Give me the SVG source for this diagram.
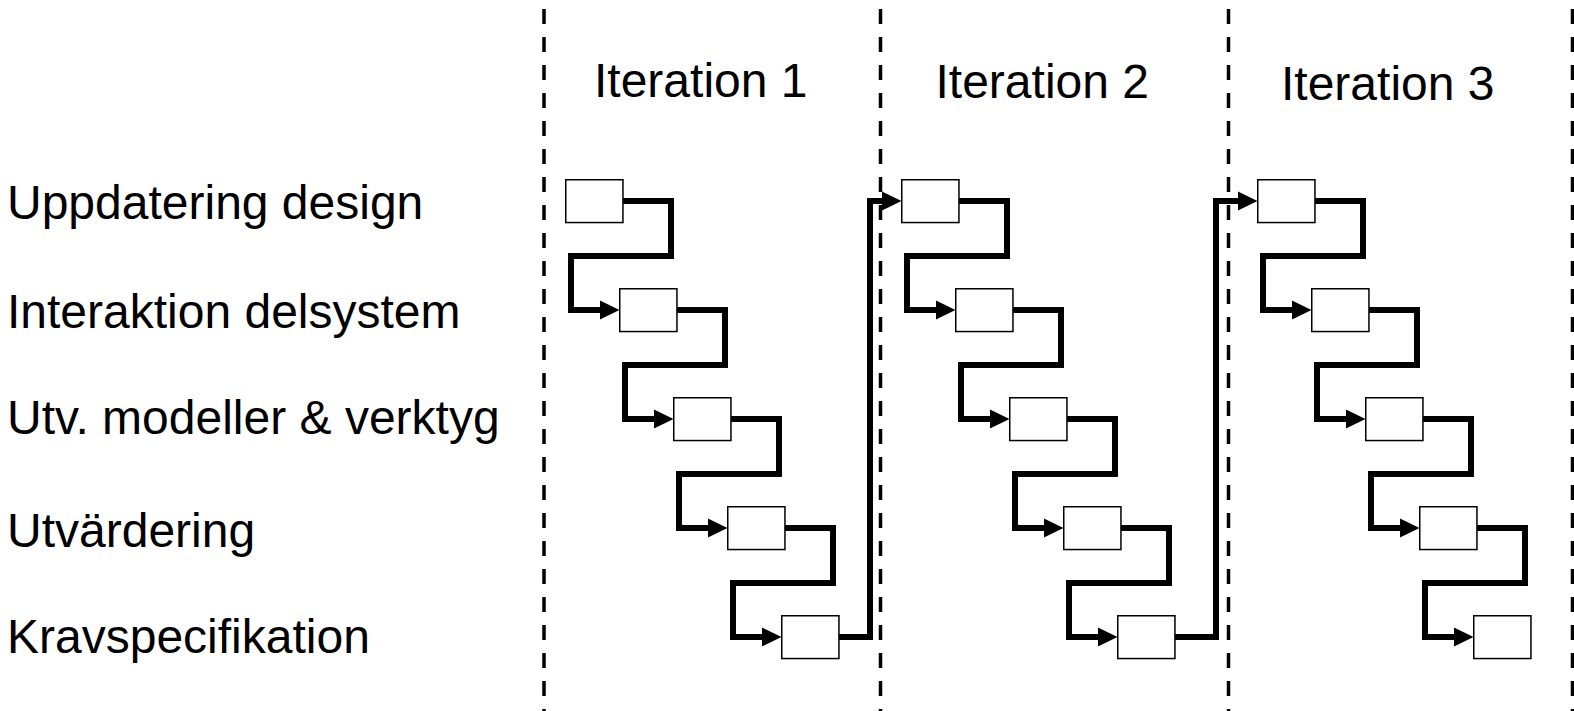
<svg xmlns="http://www.w3.org/2000/svg" width="1574" height="711" viewBox="0 0 1574 711">
  <style>
    .lbl { font-family: "Liberation Sans", Arial, sans-serif; font-size: 48px; fill: #000; }
    .sep { stroke: #000; stroke-width: 3.5; stroke-dasharray: 15 13; fill: none; }
    .box { fill: #fff; stroke: #000; stroke-width: 1.5; }
    .flow { fill: none; stroke: #000; stroke-width: 6; stroke-linejoin: miter; stroke-linecap: butt; marker-end: url(#arrow); }
  </style>
  <defs>
    <marker id="arrow" markerUnits="userSpaceOnUse" markerWidth="20" markerHeight="20" refX="9" refY="10" orient="auto">
      <path d="M0,0.5 L19.5,10 L0,19.5 Z" fill="#000"/>
    </marker>
  </defs>

  <rect width="1574" height="711" fill="#fff"/>

  <!-- activity labels -->
  <g id="activities">
    <text class="lbl" x="7" y="219">Uppdatering design</text>
    <text class="lbl" x="7" y="328">Interaktion delsystem</text>
    <text class="lbl" x="7" y="434">Utv. modeller &amp; verktyg</text>
    <text class="lbl" x="7" y="547">Utvärdering</text>
    <text class="lbl" x="7" y="653">Kravspecifikation</text>
  </g>

  <!-- iteration separators -->
  <g id="separators">
    <line class="sep" x1="544" y1="9" x2="544" y2="711"/>
    <line class="sep" x1="880.5" y1="9" x2="880.5" y2="711"/>
    <line class="sep" x1="1228.5" y1="9" x2="1228.5" y2="711"/>
    <line class="sep" x1="1572.5" y1="9" x2="1572.5" y2="711"/>
  </g>

  <!-- iteration headings -->
  <g id="headings">
    <text class="lbl" x="594" y="97">Iteration 1</text>
    <text class="lbl" x="935.5" y="98">Iteration 2</text>
    <text class="lbl" x="1281" y="99.5">Iteration 3</text>
  </g>

  <!-- connectors -->
  <g id="connectors">
    <!-- iteration 1 -->
    <path class="flow" d="M623,201 H671 V256 H571 V310 H609"/>
    <path class="flow" d="M677,310 H725 V365 H625 V419 H663"/>
    <path class="flow" d="M731,419 H779 V474 H679 V528 H717"/>
    <path class="flow" d="M785,528 H833 V583 H733 V637 H771"/>
    <path class="flow" d="M839,637 H870 V201 H891"/>
    <!-- iteration 2 -->
    <path class="flow" d="M959,201 H1007 V256 H907 V310 H945"/>
    <path class="flow" d="M1013,310 H1061 V365 H961 V419 H999"/>
    <path class="flow" d="M1067,419 H1115 V474 H1015 V528 H1053"/>
    <path class="flow" d="M1121,528 H1169 V583 H1069 V637 H1107"/>
    <path class="flow" d="M1175,637 H1216 V201 H1247"/>
    <!-- iteration 3 -->
    <path class="flow" d="M1315,201 H1363 V256 H1263 V310 H1301"/>
    <path class="flow" d="M1369,310 H1417 V365 H1317 V419 H1355"/>
    <path class="flow" d="M1423,419 H1471 V474 H1371 V528 H1409"/>
    <path class="flow" d="M1477,528 H1525 V583 H1425 V637 H1463"/>
  </g>

  <!-- iteration 1 tasks -->
  <g id="it1-design"><rect class="box" x="565.75" y="179.75" width="57.2" height="42.8"/></g>
  <g id="it1-interaktion"><rect class="box" x="619.75" y="288.75" width="57.2" height="42.8"/></g>
  <g id="it1-modeller"><rect class="box" x="673.75" y="397.75" width="57.2" height="42.8"/></g>
  <g id="it1-utvardering"><rect class="box" x="727.75" y="506.75" width="57.2" height="42.8"/></g>
  <g id="it1-krav"><rect class="box" x="781.75" y="615.75" width="57.2" height="42.8"/></g>

  <!-- iteration 2 tasks -->
  <g id="it2-design"><rect class="box" x="901.75" y="179.75" width="57.2" height="42.8"/></g>
  <g id="it2-interaktion"><rect class="box" x="955.75" y="288.75" width="57.2" height="42.8"/></g>
  <g id="it2-modeller"><rect class="box" x="1009.75" y="397.75" width="57.2" height="42.8"/></g>
  <g id="it2-utvardering"><rect class="box" x="1063.75" y="506.75" width="57.2" height="42.8"/></g>
  <g id="it2-krav"><rect class="box" x="1117.75" y="615.75" width="57.2" height="42.8"/></g>

  <!-- iteration 3 tasks -->
  <g id="it3-design"><rect class="box" x="1257.75" y="179.75" width="57.2" height="42.8"/></g>
  <g id="it3-interaktion"><rect class="box" x="1311.75" y="288.75" width="57.2" height="42.8"/></g>
  <g id="it3-modeller"><rect class="box" x="1365.75" y="397.75" width="57.2" height="42.8"/></g>
  <g id="it3-utvardering"><rect class="box" x="1419.75" y="506.75" width="57.2" height="42.8"/></g>
  <g id="it3-krav"><rect class="box" x="1473.75" y="615.75" width="57.2" height="42.8"/></g>
</svg>
